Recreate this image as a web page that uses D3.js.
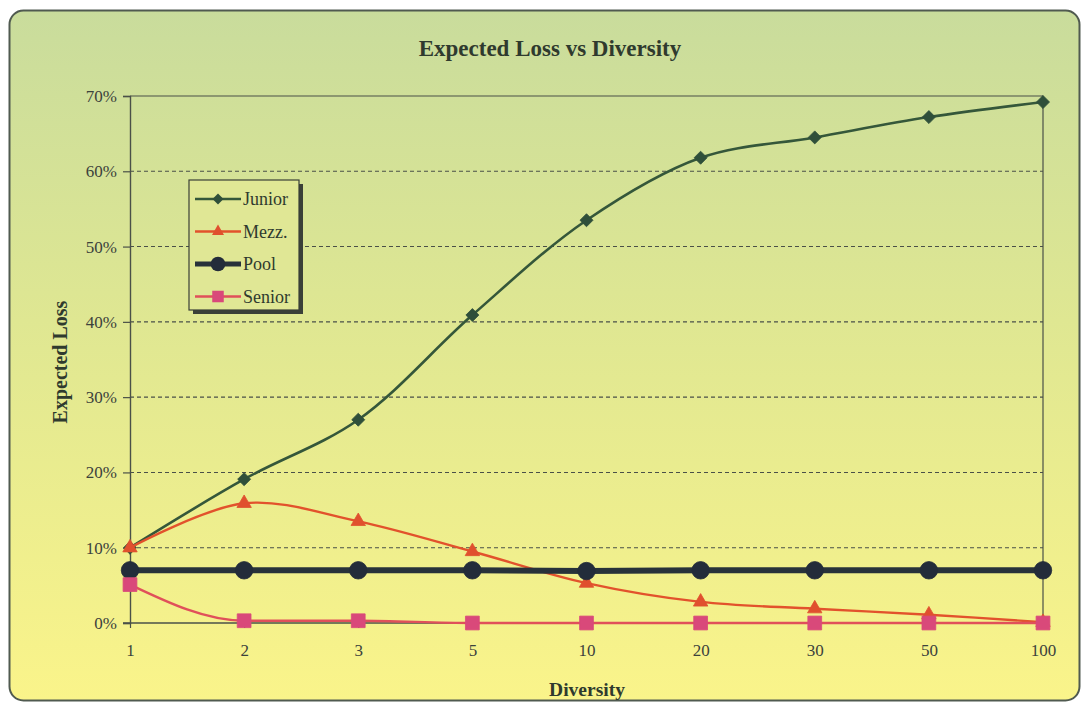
<!DOCTYPE html>
<html>
<head>
<meta charset="utf-8">
<script src="https://cdn.jsdelivr.net/npm/d3@7"></script>
<style>
  html, body { margin: 0; padding: 0; background: #ffffff; }
  svg { display: block; }
</style>
</head>
<body>
<svg id="chart" width="1082" height="708"></svg>
<script>
// Diversity buckets along the x axis
const categories = ["1", "2", "3", "5", "10", "20", "30", "50", "100"];

// Expected loss per tranche (fraction of notional)
const junior = [0.100, 0.191, 0.270, 0.409, 0.535, 0.618, 0.645, 0.672, 0.692];
const mezz   = [0.100, 0.159, 0.135, 0.095, 0.053, 0.028, 0.019, 0.011, 0.001];
const pool   = [0.070, 0.070, 0.070, 0.070, 0.069, 0.070, 0.070, 0.070, 0.070];
const senior = [0.051, 0.003, 0.003, 0.000, 0.000, 0.000, 0.000, 0.000, 0.000];

const yTicks = [0, 0.1, 0.2, 0.3, 0.4, 0.5, 0.6, 0.7];

// Square turned 45 degrees, used as the diamond marker
const squareDiamond = {
  draw(context, size) {
    const r = Math.sqrt(size) / Math.SQRT2;
    context.moveTo(0, -r);
    context.lineTo(r, 0);
    context.lineTo(0, r);
    context.lineTo(-r, 0);
    context.closePath();
  }
};

const smooth = d3.curveCatmullRom.alpha(0.5);

const seriesList = [
  { name: "Junior", values: junior, line: "#35573a", fill: "#2f4f3a", width: 2.6, symbol: squareDiamond,   size: 85,  curve: smooth },
  { name: "Mezz.",  values: mezz,   line: "#e2522c", fill: "#e0502e", width: 2.4, symbol: d3.symbolTriangle, size: 90,  curve: smooth },
  { name: "Pool",   values: pool,   line: "#28323a", fill: "#232c3a", width: 6,   symbol: d3.symbolCircle,   size: 240, curve: d3.curveLinear },
  { name: "Senior", values: senior, line: "#e0505a", fill: "#d9497a", width: 2.4, symbol: d3.symbolSquare,   size: 190, curve: d3.curveMonotoneX }
];

const svg = d3.select("#chart");

// Panel background with a green-to-yellow wash
const defs = svg.append("defs");
const grad = defs.append("linearGradient")
  .attr("id", "panelFill").attr("x1", 0).attr("y1", 0).attr("x2", 0).attr("y2", 1);
grad.append("stop").attr("offset", "0%").attr("stop-color", "#c9dc9c");
grad.append("stop").attr("offset", "45%").attr("stop-color", "#dfe792");
grad.append("stop").attr("offset", "100%").attr("stop-color", "#faf48a");

svg.append("rect")
  .attr("x", 9.5).attr("y", 10.5).attr("width", 1070).attr("height", 690)
  .attr("rx", 14).attr("ry", 14)
  .attr("fill", "url(#panelFill)")
  .attr("stroke", "#505a50").attr("stroke-width", 2);

const plot = { left: 130, right: 1043, top: 96, bottom: 623 };

const x = d3.scalePoint().domain(categories).range([plot.left, plot.right]);
const y = d3.scaleLinear().domain([0, 0.7]).range([plot.bottom, plot.top]);

// Dashed horizontal gridlines
svg.append("g")
  .selectAll("line")
  .data(yTicks.filter(t => t > 0 && t < 0.7))
  .join("line")
  .attr("x1", plot.left).attr("x2", plot.right)
  .attr("y1", d => y(d)).attr("y2", d => y(d))
  .attr("stroke", "#4a5048").attr("stroke-width", 1.1)
  .attr("stroke-dasharray", "4,3");

// Plot frame: top and right edges
svg.append("path")
  .attr("d", `M${plot.left},${plot.top}H${plot.right}V${plot.bottom}`)
  .attr("fill", "none").attr("stroke", "#4a5048").attr("stroke-width", 1.2);

const fontFamily = "'Liberation Serif', 'Times New Roman', serif";

// Y axis
const yAxis = svg.append("g")
  .attr("transform", `translate(${plot.left},0)`)
  .call(d3.axisLeft(y).tickValues(yTicks).tickFormat(d3.format(".0%")).tickSize(7).tickPadding(6));
yAxis.select(".domain").attr("stroke", "#4a5048").attr("stroke-width", 1.4);
yAxis.selectAll(".tick line").attr("stroke", "#4a5048").attr("stroke-width", 1.2);
yAxis.selectAll(".tick text")
  .attr("font-family", fontFamily).attr("font-size", 17).attr("fill", "#3c423c");

// X axis
const xAxis = svg.append("g")
  .attr("transform", `translate(0,${plot.bottom})`)
  .call(d3.axisBottom(x).tickSize(5).tickSizeOuter(0).tickPadding(16));
xAxis.select(".domain").attr("stroke", "#4a5048").attr("stroke-width", 1.4)
  .attr("d", `M${plot.left - 7},0H${plot.right}`);
xAxis.selectAll(".tick line").attr("stroke", "#4a5048").attr("stroke-width", 1.2);
xAxis.selectAll(".tick text")
  .attr("font-family", fontFamily).attr("font-size", 17).attr("fill", "#3c423c");

// Series lines and markers
seriesList.forEach(s => {
  const lineGen = d3.line()
    .x((d, i) => x(categories[i]))
    .y(d => y(d))
    .curve(s.curve);
  const g = svg.append("g");
  g.append("path")
    .datum(s.values)
    .attr("d", lineGen)
    .attr("fill", "none")
    .attr("stroke", s.line)
    .attr("stroke-width", s.width)
    .attr("stroke-linejoin", "round");
  g.selectAll("path.marker")
    .data(s.values)
    .join("path")
    .attr("class", "marker")
    .attr("transform", (d, i) => `translate(${x(categories[i])},${y(d)})`)
    .attr("d", d3.symbol().type(s.symbol).size(s.size))
    .attr("fill", s.fill)
    .attr("stroke", s.fill).attr("stroke-width", 0.8);
});

// Titles
svg.append("text")
  .attr("x", 550).attr("y", 56)
  .attr("text-anchor", "middle")
  .attr("font-family", fontFamily).attr("font-weight", "bold").attr("font-size", 23)
  .attr("fill", "#2f3a2e")
  .text("Expected Loss vs Diversity");

svg.append("text")
  .attr("x", 587).attr("y", 696)
  .attr("text-anchor", "middle")
  .attr("font-family", fontFamily).attr("font-weight", "bold").attr("font-size", 19.5)
  .attr("fill", "#2f3a2e")
  .text("Diversity");

svg.append("text")
  .attr("transform", "translate(67,362) rotate(-90)")
  .attr("text-anchor", "middle")
  .attr("font-family", fontFamily).attr("font-weight", "bold").attr("font-size", 20)
  .attr("fill", "#2f3a2e")
  .text("Expected Loss");

// Legend with drop shadow
const legend = { x: 189, y: 180, w: 110, h: 130 };
svg.append("rect")
  .attr("x", legend.x + 4).attr("y", legend.y + 4)
  .attr("width", legend.w).attr("height", legend.h)
  .attr("fill", "#3a4038");
svg.append("rect")
  .attr("x", legend.x).attr("y", legend.y)
  .attr("width", legend.w).attr("height", legend.h)
  .attr("fill", "#e0e795").attr("stroke", "#3a4038").attr("stroke-width", 1.2);

seriesList.forEach((s, i) => {
  const cy = legend.y + 19 + i * 32.5;
  const g = svg.append("g");
  g.append("line")
    .attr("x1", legend.x + 6).attr("x2", legend.x + 52)
    .attr("y1", cy).attr("y2", cy)
    .attr("stroke", s.line).attr("stroke-width", s.width === 6 ? 5 : s.width);
  g.append("path")
    .attr("transform", `translate(${legend.x + 29},${cy})`)
    .attr("d", d3.symbol().type(s.symbol).size(s.size * 0.7))
    .attr("fill", s.fill);
  g.append("text")
    .attr("x", legend.x + 54).attr("y", cy + 6)
    .attr("font-family", fontFamily).attr("font-size", 18)
    .attr("fill", "#2f3a2e")
    .text(s.name);
});
</script>
</body>
</html>
